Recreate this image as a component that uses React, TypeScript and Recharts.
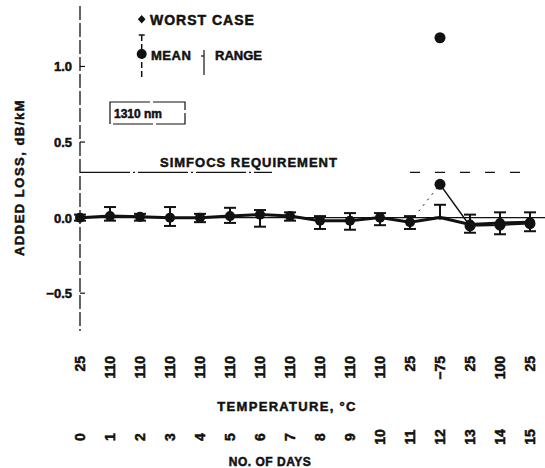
import React from "react";
import {
  ComposedChart,
  Line,
  XAxis,
  YAxis,
  ErrorBar,
  ReferenceLine,
} from "recharts";

if (typeof document !== "undefined") document.body.style.margin = "0";

const days = [0, 1, 2, 3, 4, 5, 6, 7, 8, 9, 10, 11, 12, 13, 14, 15];
const tempLabels = ["25", "110", "110", "110", "110", "110", "110", "110", "110", "110", "110", "25", "\u221275", "25", "100", "25"];
const meanLoss = [0, 0.01, 0.005, 0, 0, 0.01, 0.02, 0.01, -0.02, -0.02, 0, -0.03, 0, -0.045, -0.035, -0.03];
const rangeHigh = [0.02, 0.07, 0.025, 0.07, 0.025, 0.065, 0.05, 0.035, 0.01, 0.03, 0.03, 0.01, 0.085, 0.02, 0.035, 0.035];
const rangeLow = [-0.02, -0.02, -0.02, -0.055, -0.03, -0.035, -0.06, -0.02, -0.075, -0.08, -0.05, -0.075, 0, -0.1, -0.11, -0.09];
const peakRise = [null, null, null, null, null, null, null, null, null, null, null, -0.03, 0.22, null, null, null];
const peakFall = [null, null, null, null, null, null, null, null, null, null, null, null, 0.22, -0.055, -0.05, -0.04];
const worstCase = [null, null, null, null, null, null, null, null, null, null, null, null, 1.19, null, null, null];
const yTicks = [-0.5, 0, 0.5, 1.0];
const requirement = 0.3;

const PEAK_DAY = 12;
const INK = "#111";
const FONT = "'Liberation Sans', Arial, sans-serif";

const data = days.map((d, i) => ({
  day: d,
  mean: meanLoss[i],
  err: [meanLoss[i] - rangeLow[i], rangeHigh[i] - meanLoss[i]],
  rise: peakRise[i],
  fall: peakFall[i],
  worst: worstCase[i],
}));

// heavy lettering, like the old print
const txt = { fontFamily: FONT, fontWeight: 700, fill: INK, stroke: INK, strokeWidth: 0.5 } as const;

function YTick(props: any) {
  const { x, y, payload } = props;
  const v = payload.value as number;
  const label = v < 0 ? "\u2212" + Math.abs(v).toFixed(1) : v.toFixed(1);
  return (
    <g>
      <text x={x} y={y} dy={5} textAnchor="end" fontSize={13} {...txt}>
        {label}
      </text>
      <line x1={x + 8} x2={x + 13} y1={y} y2={y} stroke={INK} strokeWidth={1.2} />
    </g>
  );
}

function TempTick(props: any) {
  const { x, y, payload } = props;
  const ty = y + 25;
  return (
    <text x={x} y={ty} dy={5} textAnchor="end" fontSize={14} transform={`rotate(-90 ${x} ${ty})`} {...txt}>
      {tempLabels[payload.value]}
    </text>
  );
}

function DayTick(props: any) {
  const { x, y, payload } = props;
  const ty = y + 16;
  return (
    <text x={x} y={ty} dy={5} textAnchor="middle" fontSize={14} transform={`rotate(-90 ${x} ${ty})`} {...txt}>
      {payload.value}
    </text>
  );
}

function MeanDot(props: any) {
  const { cx, cy, payload } = props;
  if (cx == null || cy == null) return null;
  return <circle cx={cx} cy={cy} r={payload.day === PEAK_DAY ? 2 : 5} fill={INK} />;
}

function BigDot(props: any) {
  const { cx, cy, value } = props;
  if (cx == null || cy == null || value == null) return null;
  return <circle cx={cx} cy={cy} r={5.5} fill={INK} />;
}

function Legend() {
  return (
    <svg width={545} height={468} style={{ position: "absolute", left: 0, top: 0, pointerEvents: "none" }}>
      <polygon points="141.7,15 145.5,19.3 141.7,23.6 137.9,19.3" fill={INK} />
      <text x={150} y={25} fontSize={14} letterSpacing={1} {...txt}>WORST CASE</text>
      <line x1={141.7} x2={141.7} y1={35} y2={78} stroke={INK} strokeWidth={1.5} strokeDasharray="6 3" />
      <line x1={138.7} x2={144.7} y1={35} y2={35} stroke={INK} strokeWidth={1.5} />
      <circle cx={141.7} cy={54} r={5} fill={INK} />
      <text x={151} y={60} fontSize={13} letterSpacing={0.5} {...txt}>MEAN</text>
      <line x1={204} x2={204} y1={50} y2={75} stroke={INK} strokeWidth={1.2} />
      <line x1={201} x2={204} y1={56} y2={56} stroke={INK} strokeWidth={1.2} />
      <text x={215} y={60} fontSize={13} {...txt}>RANGE</text>
      <rect x={110} y={102} width={75} height={22} fill="none" stroke={INK} strokeWidth={1.2} strokeDasharray="40 3" />
      <text x={114} y={118} fontSize={12} {...txt}>1310 nm</text>
    </svg>
  );
}

export default function App() {
  return (
    <div style={{ position: "relative", width: 545, height: 468, background: "#fff" }}>
      <ComposedChart width={545} height={468} data={data} margin={{ top: 6, right: 0, bottom: 0, left: 0 }}>
        <XAxis
          xAxisId="a"
          dataKey="day"
          type="number"
          domain={[0, 15.5]}
          ticks={days}
          axisLine={false}
          tickLine={false}
          tickSize={0}
          tickMargin={0}
          height={90}
          tick={<TempTick />}
          interval={0}
          label={{
            content: (p: any) => (
              <text x={p.viewBox.x + 207} y={p.viewBox.y + 80} textAnchor="middle" fontSize={13} letterSpacing={1.3} {...txt}>
                TEMPERATURE, °C
              </text>
            ),
          }}
        />
        <XAxis
          xAxisId="b"
          dataKey="day"
          type="number"
          domain={[0, 15.5]}
          ticks={days}
          axisLine={false}
          tickLine={false}
          tickSize={0}
          tickMargin={0}
          height={47}
          tick={<DayTick />}
          interval={0}
          label={{
            content: (p: any) => (
              <text x={p.viewBox.x + 190} y={p.viewBox.y + 45} textAnchor="middle" fontSize={12} letterSpacing={0.5} {...txt}>
                NO. OF DAYS
              </text>
            ),
          }}
        />
        <YAxis
          type="number"
          domain={[-0.75, 1.4]}
          ticks={yTicks}
          width={80}
          tickSize={0}
          tickMargin={8}
          tickLine={false}
          axisLine={{ stroke: INK, strokeWidth: 1.3, strokeDasharray: "14 3" }}
          tick={<YTick />}
          interval={0}
          label={{
            content: (p: any) => {
              const cx = 24;
              const cy = p.viewBox.y + p.viewBox.height / 2 + 9;
              return (
                <text x={cx} y={cy} textAnchor="middle" fontSize={13} letterSpacing={1.5} transform={`rotate(-90 ${cx} ${cy})`} {...txt}>
                  ADDED LOSS, dB/kM
                </text>
              );
            },
          }}
        />
        <ReferenceLine xAxisId="a" y={0} stroke={INK} strokeWidth={1.2} />
        <ReferenceLine
          xAxisId="a"
          segment={[{ x: 0, y: requirement }, { x: 6.4, y: requirement }]}
          stroke={INK}
          strokeWidth={1.2}
          strokeDasharray="50 3 2 3"
          label={{
            content: (p: any) => (
              <text x={p.viewBox.x + 80} y={p.viewBox.y - 5} fontSize={13} letterSpacing={1} {...txt}>
                SIMFOCS REQUIREMENT
              </text>
            ),
          }}
        />
        <ReferenceLine
          xAxisId="a"
          segment={[{ x: 11, y: requirement }, { x: 15, y: requirement }]}
          stroke={INK}
          strokeWidth={1.2}
          strokeDasharray="10 15"
        />
        <Line
          xAxisId="a"
          dataKey="rise"
          stroke={INK}
          strokeWidth={1}
          strokeDasharray="2 5"
          dot={false}
          isAnimationActive={false}
        />
        <Line
          xAxisId="a"
          dataKey="fall"
          stroke={INK}
          strokeWidth={1.5}
          dot={false}
          isAnimationActive={false}
        />
        <Line
          xAxisId="a"
          dataKey="mean"
          stroke={INK}
          strokeWidth={3}
          dot={<MeanDot />}
          isAnimationActive={false}
        >
          <ErrorBar dataKey="err" width={6} strokeWidth={2} stroke={INK} direction="y" />
        </Line>
        <Line
          xAxisId="a"
          dataKey="fall"
          stroke="none"
          dot={<BigDot />}
          isAnimationActive={false}
          legendType="none"
        />
        <Line
          xAxisId="a"
          dataKey="worst"
          stroke="none"
          dot={<BigDot />}
          isAnimationActive={false}
        />
      </ComposedChart>
      <Legend />
    </div>
  );
}
